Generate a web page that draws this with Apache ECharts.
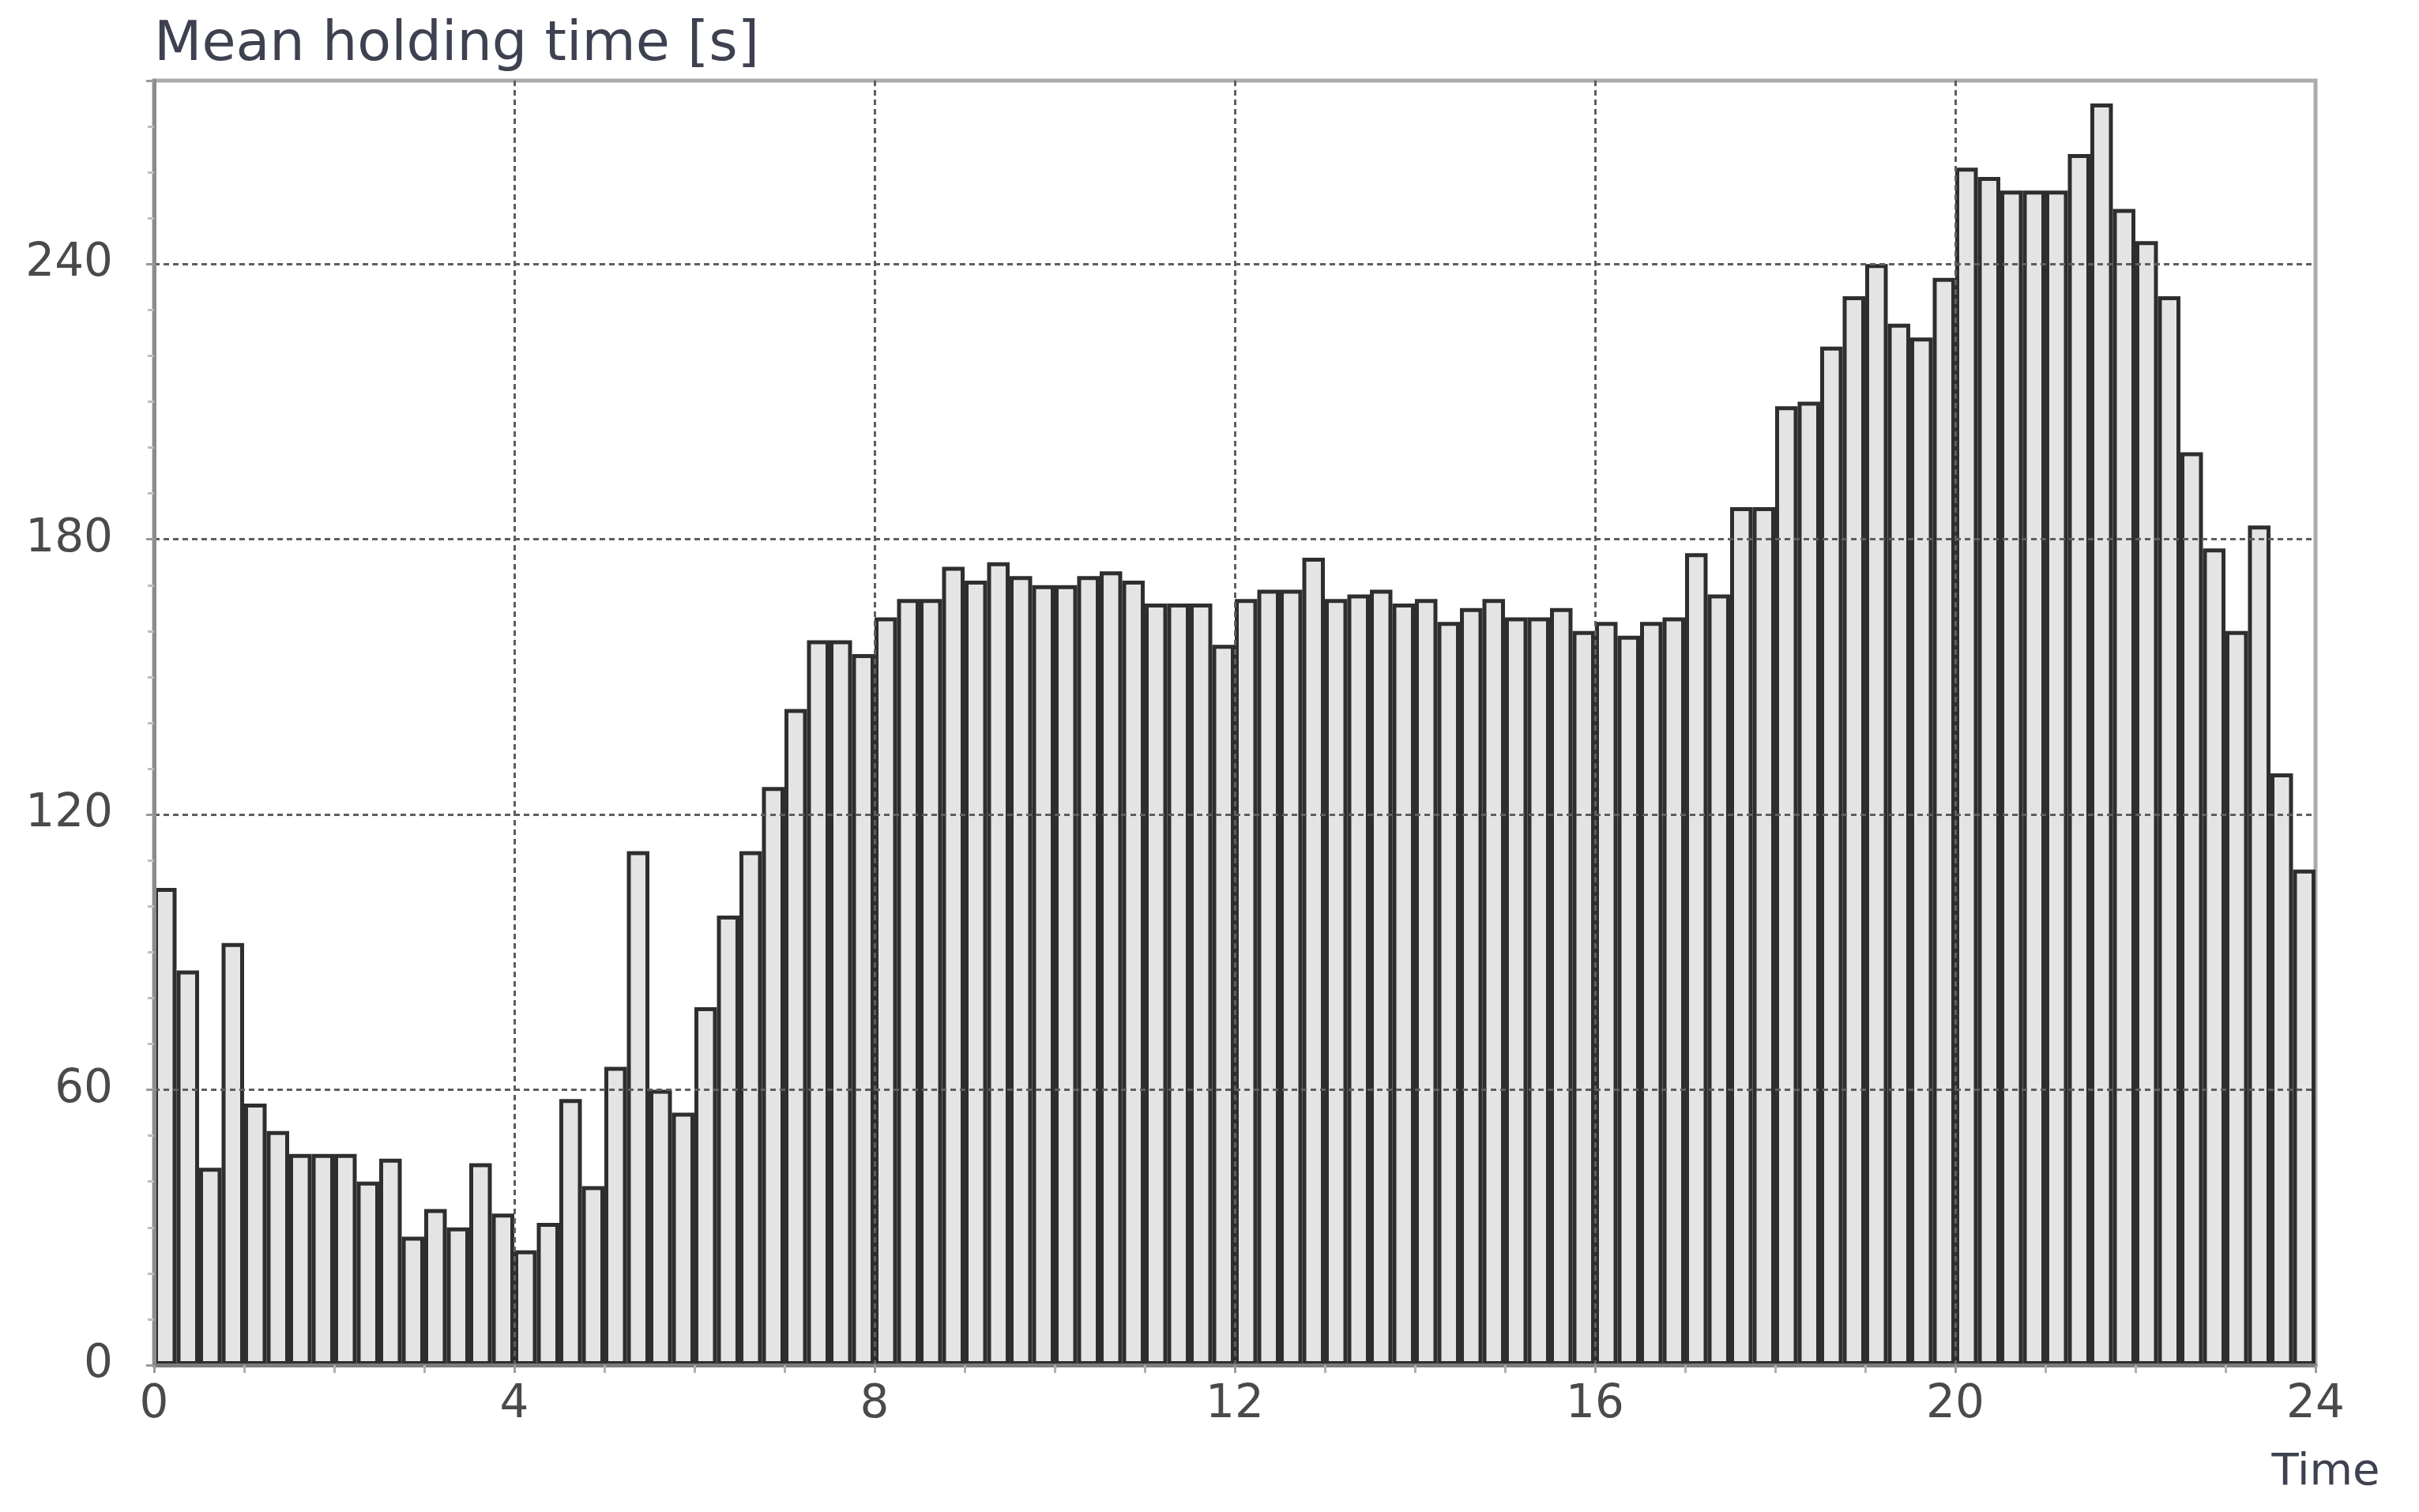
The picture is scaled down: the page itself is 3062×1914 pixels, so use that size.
<!DOCTYPE html>
<html>
<head>
<meta charset="utf-8">
<title>Mean holding time</title>
<script src="https://cdn.jsdelivr.net/npm/echarts@6/dist/echarts.min.js"></script>
<style>
  html, body { margin: 0; padding: 0; background: #fff; }
  #chart { width: 3062px; height: 1914px; }
</style>
</head>
<body>
<div id="chart"></div>
<script>
// mean holding time [s] for every 15 min slot of the day
const h00to04 = [104, 86, 43, 92, 57, 51, 46, 46, 46, 40, 45, 28, 34, 30, 44, 33]
const h04to08 = [25, 31, 58, 39, 65, 112, 60, 55, 78, 98, 112, 126, 143, 158, 158, 155]
const h08to12 = [163, 167, 167, 174, 171, 175, 172, 170, 170, 172, 173, 171, 166, 166, 166, 157]
const h12to16 = [167, 169, 169, 176, 167, 168, 169, 166, 167, 162, 165, 167, 163, 163, 165, 160]
const h16to20 = [162, 159, 162, 163, 177, 168, 187, 187, 209, 210, 222, 233, 240, 227, 224, 237]
const h20to24 = [261, 259, 256, 256, 256, 264, 275, 252, 245, 233, 199, 178, 160, 183, 129, 108]

const holdingTime = [].concat(h00to04, h04to08, h08to12, h12to16, h16to20, h20to24)

// one category per quarter hour
const slots = holdingTime.map((_, i) => {
  const m = i * 15
  return String(Math.floor(m / 60)).padStart(2, '0') + ':' + String(m % 60).padStart(2, '0')
})

const hourTicks = [0, 4, 8, 12, 16, 20, 24]
const secondTicks = [0, 60, 120, 180, 240]

const font = 'DejaVu Sans'
const gridLine = { color: '#5e5e5e', type: [7, 5], width: 3 }

const chart = echarts.init(document.getElementById('chart'))

chart.setOption({
  animation: false,
  backgroundColor: '#fff',
  grid: {
    left: 195,
    right: 131,
    top: 102,
    bottom: 186,
    show: true,
    borderColor: '#ababab',
    borderWidth: 5,
    outerBoundsMode: 'none'
  },
  xAxis: [
    {
      type: 'category',
      data: slots,
      show: false,
      boundaryGap: true
    },
    {
      type: 'value',
      min: hourTicks[0],
      max: hourTicks[hourTicks.length - 1],
      interval: 4,
      position: 'bottom',
      z: 5,
      name: 'Time',
      nameLocation: 'end',
      nameGap: 13,
      nameTextStyle: {
        fontFamily: font,
        fontSize: 56,
        color: '#3d4150',
        align: 'center',
        verticalAlign: 'top',
        padding: [108, 0, 0, 0]
      },
      axisLine: { lineStyle: { color: '#7c7c7c', width: 5 } },
      axisTick: { show: true, length: 10, lineStyle: { color: '#9a9a9a', width: 3 } },
      minorTick: { show: true, splitNumber: 4, length: 10, lineStyle: { color: '#b0b0b0', width: 3 } },
      axisLabel: {
        fontFamily: font,
        fontSize: 58,
        color: '#4a4a4a',
        margin: 22,
        formatter: v => (hourTicks.includes(v) ? String(v) : '')
      },
      splitLine: { show: true, showMinLine: false, showMaxLine: false, lineStyle: gridLine }
    }
  ],
  yAxis: {
    type: 'value',
    min: 0,
    max: 280,
    interval: 60,
    z: 5,
    name: 'Mean holding time [s]',
    nameLocation: 'end',
    nameGap: 44,
    nameTextStyle: {
      fontFamily: font,
      fontSize: 70,
      color: '#3d4150',
      align: 'left',
      verticalAlign: 'middle'
    },
    axisLine: { show: true, lineStyle: { color: '#8c8c8c', width: 5 } },
    axisTick: { show: true, length: 10, lineStyle: { color: '#9a9a9a', width: 3 } },
    minorTick: { show: true, splitNumber: 6, length: 8, lineStyle: { color: '#bdbdbd', width: 3 } },
    axisLabel: {
      fontFamily: font,
      fontSize: 58,
      color: '#4a4a4a',
      margin: 52,
      showMaxLabel: false,
      formatter: v => (secondTicks.includes(v) ? String(v) : '')
    },
    splitLine: { show: true, showMinLine: false, showMaxLine: false, lineStyle: gridLine }
  },
  series: [
    {
      type: 'bar',
      name: 'Mean holding time',
      xAxisIndex: 0,
      yAxisIndex: 0,
      data: holdingTime,
      barCategoryGap: '0%',
      itemStyle: {
        color: '#e4e4e4',
        borderColor: '#2e2e2e',
        borderWidth: 5
      }
    }
  ]
})
</script>
</body>
</html>
